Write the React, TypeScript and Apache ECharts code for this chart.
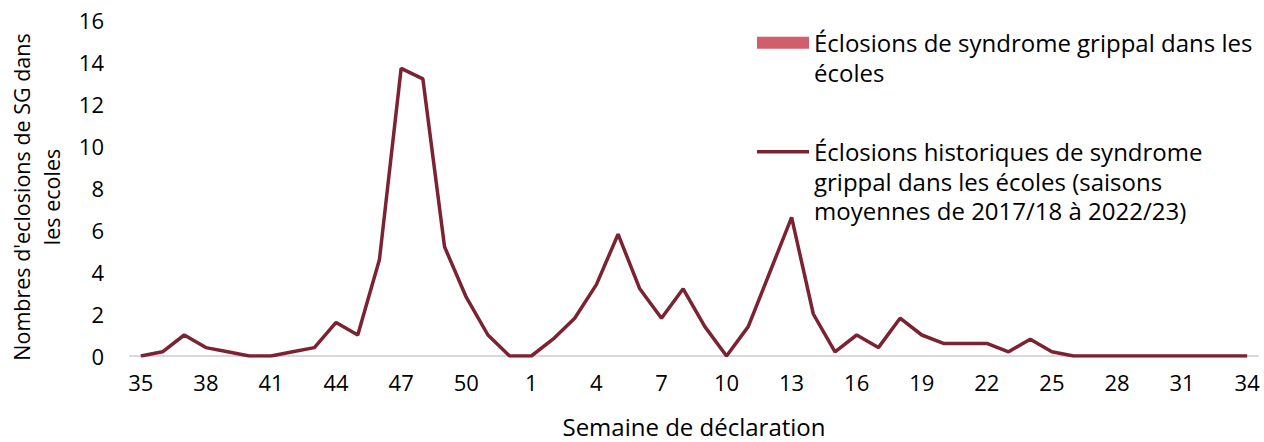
import React, { useEffect, useRef } from "react";
import * as echarts from "echarts";

const weeks: string[] = [
  "35", "36", "37", "38", "39", "40", "41", "42", "43", "44", "45", "46", "47",
  "48", "49", "50", "51", "52", "1", "2", "3", "4", "5", "6", "7", "8", "9",
  "10", "11", "12", "13", "14", "15", "16", "17", "18", "19", "20", "21", "22",
  "23", "24", "25", "26", "27", "28", "29", "30", "31", "32", "33", "34",
];

// Current season (no outbreaks reported yet)
const currentSeason: (number | null)[] = [];

// Historical average (2017/18 to 2022/23)
const historical: number[] = [
  0, 0.2, 1.0, 0.4, 0.2, 0, 0, 0.2, 0.4, 1.6, 1.0, 4.6, 13.7,
  13.2, 5.2, 2.8, 1.0, 0, 0, 0.8, 1.8, 3.4, 5.8, 3.2, 1.8, 3.2, 1.4,
  0, 1.4, 4.0, 6.6, 2.0, 0.2, 1.0, 0.4, 1.8, 1.0, 0.6, 0.6, 0.6,
  0.2, 0.8, 0.2, 0, 0, 0, 0, 0, 0, 0, 0, 0,
];

const barName = "Éclosions de syndrome grippal dans les écoles";
const lineName =
  "Éclosions historiques de syndrome grippal dans les écoles (saisons moyennes de 2017/18 à 2022/23)";
// leading blank lines keep the first text line level with the legend icon
const barLabel = "\nÉclosions de syndrome grippal dans les\nécoles";
const lineLabel =
  "\n\nÉclosions historiques de syndrome\ngrippal dans les écoles (saisons\nmoyennes de 2017/18 à 2022/23)";

const yAxisName = "Nombres d'eclosions de SG dans\nles ecoles";
const xAxisName = "Semaine de déclaration";

const FONT = "'Open Sans', 'Noto Sans', sans-serif";
const TEXT = "#000000";
const LINE_COLOR = "#7b2331";
const BAR_COLOR = "#d05e6b";

export default function App() {
  const ref = useRef<HTMLDivElement>(null);

  useEffect(() => {
    document.body.style.margin = "0";
    if (!ref.current) return;
    const chart = echarts.init(ref.current, null, { renderer: "svg" });
    const LH = 29.5;
    const LFS = 24;
    chart.setOption({
      animation: false,
      backgroundColor: "#ffffff",
      textStyle: { fontFamily: FONT },
      grid: {
        left: 130,
        right: 6,
        top: 20,
        bottom: 86,
        containLabel: false,
        outerBoundsMode: "none",
      },
      legend: [
        {
          data: [barName],
          orient: "vertical",
          left: 757,
          top: -1.5,
          padding: 0,
          icon: "rect",
          itemWidth: 52,
          itemHeight: 12,
          selectedMode: false,
          formatter: () => barLabel,
          textStyle: {
            fontFamily: FONT,
            fontSize: LFS,
            lineHeight: LH,
            color: TEXT,
          },
        },
        {
          data: [lineName],
          orient: "vertical",
          left: 757,
          top: 78,
          padding: 0,
          icon: "rect",
          itemWidth: 52,
          itemHeight: 3.5,
          selectedMode: false,
          formatter: () => lineLabel,
          textStyle: {
            fontFamily: FONT,
            fontSize: LFS,
            lineHeight: LH,
            color: TEXT,
          },
        },
      ],
      xAxis: {
        type: "category",
        data: weeks,
        boundaryGap: true,
        name: xAxisName,
        nameLocation: "middle",
        nameGap: 60,
        nameTextStyle: { fontFamily: FONT, fontSize: 24, color: TEXT, lineHeight: 20 },
        axisLine: { show: true, lineStyle: { color: "#d9d9d9", width: 2 } },
        axisTick: { show: false },
        axisLabel: {
          interval: 2,
          margin: 15,
          fontFamily: FONT,
          fontSize: 22,
          color: TEXT,
        },
        splitLine: { show: false },
      },
      yAxis: {
        type: "value",
        min: 0,
        max: 16,
        interval: 2,
        name: yAxisName,
        nameLocation: "middle",
        nameGap: 64,
        nameTextStyle: {
          fontFamily: FONT,
          fontSize: 21.5,
          color: TEXT,
          lineHeight: 30,
          padding: [0, 18, 0, 0],
        },
        axisLine: { show: false },
        axisTick: { show: false },
        axisLabel: { margin: 26, fontFamily: FONT, fontSize: 22, color: TEXT },
        splitLine: { show: false },
      },
      series: [
        {
          name: barName,
          type: "bar",
          data: currentSeason,
          itemStyle: { color: BAR_COLOR },
        },
        {
          name: lineName,
          type: "line",
          data: historical,
          symbol: "none",
          showSymbol: false,
          lineStyle: { color: LINE_COLOR, width: 3.5 },
          itemStyle: { color: LINE_COLOR },
        },
      ],
    });
    return () => chart.dispose();
  }, []);

  return <div ref={ref} style={{ width: 1264, height: 442 }} />;
}
